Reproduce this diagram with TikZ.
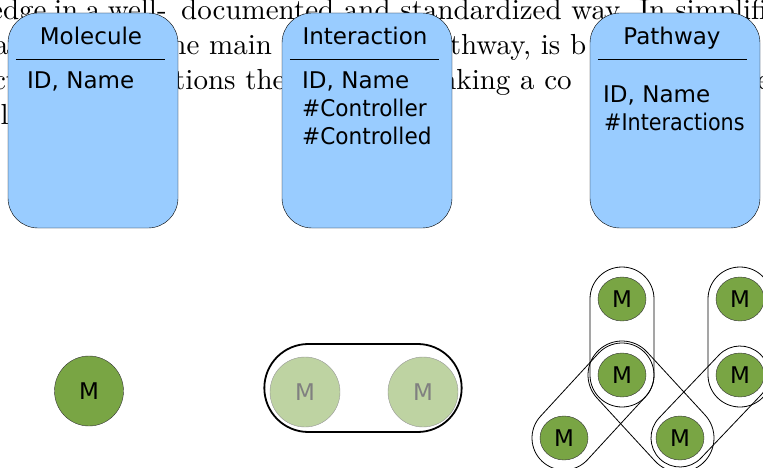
\documentclass[tikz,border=0pt]{standalone}
\usepackage{fontspec}
\newfontfamily\diagfont{DejaVu Sans}
\usetikzlibrary{calc,shapes.geometric,shapes.misc}

\definecolor{boxblue}{RGB}{153,204,255}
\definecolor{molgreen}{RGB}{121,165,68}
\definecolor{palegreen}{RGB}{190,211,162}
\definecolor{paleline}{RGB}{150,150,150}

% capsule round two molecules: #1, #2 node names, #3 half height
\newcommand{\capsule}[3]{%
  \path let \p1=($(#2)-(#1)$), \n1={atan2(\y1,\x1)}, \n2={veclen(\x1,\y1)} in
    node[capsule, minimum width=\n2+2*#3, minimum height=2*#3, rotate=\n1] at ($(#1)!0.5!(#2)$) {};}

\begin{document}
\begin{tikzpicture}[x=1pt,y=-1pt]
    % Define the styles for the boxes, texts and molecules
    \tikzstyle{classbox}=[rectangle, rounded corners=30pt, draw=black, fill=boxblue, minimum width=170pt, minimum height=215pt, inner sep=0pt]
    \tikzstyle{classtitle}=[font=\diagfont\fontsize{23}{28}\selectfont, anchor=base, inner sep=0pt]
    \tikzstyle{attr}=[font=\diagfont\fontsize{23}{28}\selectfont, anchor=base west, inner sep=0pt]
    \tikzstyle{mol}=[ellipse, draw=black!80, fill=molgreen, font=\diagfont\fontsize{23}{27}\selectfont, inner sep=0pt, minimum width=48pt, minimum height=44pt]
    \tikzstyle{ghost}=[circle, draw=paleline, fill=palegreen, text=black!50, font=\diagfont\fontsize{23}{27}\selectfont, inner sep=0pt, minimum size=70pt]
    \tikzstyle{capsule}=[rounded rectangle, draw=black, line width=0.8pt, inner sep=0pt]
    \tikzstyle{bgtext}=[anchor=base west, inner sep=0pt]

    \useasboundingbox (0,0) rectangle (763,468);
    \clip (0,0) rectangle (763,468);

    % Draw the page text behind the boxes
    \node[bgtext] (line_one_a) at (-10,20) {\scalebox{2.9}{\spaceskip=2.6pt edge in a well-}};
    \node[bgtext] (line_one_b) at (181,20) {\scalebox{2.9}{documented and standardized way. In simplified}};
    \node[bgtext] (line_two_a) at (-6,55) {\scalebox{2.9}{ar}};
    \node[bgtext] (line_two_b) at (159,55) {\scalebox{2.9}{the main}};
    \node[bgtext] (line_two_c) at (419,55) {\scalebox{2.9}{pathway, is b}};
    \node[bgtext] (line_three_a) at (-20,90) {\scalebox{2.9}{ect}};
    \node[bgtext] (line_three_b) at (174,90) {\scalebox{2.9}{tions the}};
    \node[bgtext] (line_three_c) at (424,90) {\scalebox{2.9}{linking a co}};
    \node[bgtext] (line_three_d) at (757,90) {\scalebox{2.9}{e}};
    \node[bgtext] (line_four) at (-14,125) {\scalebox{2.9}{all}};

    % Draw the boxes
    \node[classbox] (molecule) at (93,120.5) {};
    \node[classbox] (interaction) at (367,120.5) {};
    \node[classbox] (pathway) at (675,120.5) {};

    \node[classtitle] (molecule_title) at (91,45) {Molecule};
    \node[classtitle] (interaction_title) at (365,45) {Interaction};
    \node[classtitle] (pathway_title) at (672,45) {Pathway};

    \draw ($(molecule.north west)+(8,46)$) -- ($(molecule.north east)+(-13,46)$);
    \draw ($(interaction.north west)+(8,46)$) -- ($(interaction.north east)+(-13,46)$);
    \draw ($(pathway.north west)+(8,46)$) -- ($(pathway.north east)+(-13,46)$);

    \node[attr] (molecule_id) at (27,89) {ID, Name};
    \node[attr] (interaction_id) at (302,89) {ID, Name};
    \node[attr] (interaction_controller) at (302,117) {\scalebox{0.94}[1]{\#Controller}};
    \node[attr] (interaction_controlled) at (302,145) {\scalebox{0.94}[1]{\#Controlled}};
    \node[attr] (pathway_id) at (603,103) {ID, Name};
    \node[attr] (pathway_interactions) at (604,131) {\scalebox{0.9}[1]{\#Interactions}};

    % Draw the single molecule
    \node[mol, minimum width=69pt, minimum height=70pt] (single_m) at (89,391) {M};

    % Draw the complex of two molecules
    \node[rounded rectangle, draw=black, line width=1.8pt, minimum width=204pt, minimum height=88pt] (complex) at (363,388) {};
    \node[ghost] (complex_left) at (305,392) {M};
    \node[ghost] (complex_right) at (423,392) {M};

    % Draw the molecules of the pathway
    \node[mol] (m_top_left) at (622,299) {M};
    \node[mol] (m_mid_left) at (622,375) {M};
    \node[mol] (m_top_right) at (740,299) {M};
    \node[mol] (m_mid_right) at (740,375) {M};
    \node[mol] (m_low_left) at (564,438) {M};
    \node[mol] (m_low_mid) at (680,438) {M};

    % Draw the capsules round the linked molecules
    \capsule{m_mid_left}{m_top_left}{32}
    \capsule{m_mid_right}{m_top_right}{32}
    \capsule{m_low_left}{m_mid_left}{32}
    \capsule{m_mid_left}{m_low_mid}{34}
    \capsule{m_low_mid}{m_mid_right}{29}
\end{tikzpicture}
\end{document}
